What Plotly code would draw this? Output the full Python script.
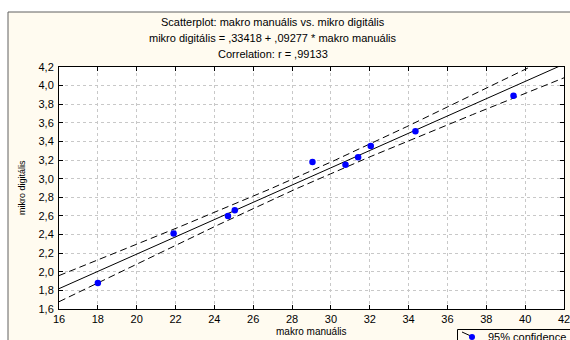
import numpy as np
import plotly.graph_objects as go

# ---- data ----
makro_manualis = [18.0, 21.9, 24.7, 25.05, 29.05, 30.75, 31.4, 32.05, 34.35, 39.4]
mikro_digitalis = [1.88, 2.41, 2.60, 2.66, 3.18, 3.15, 3.23, 3.35, 3.51, 3.89]
intercept = 0.33418
slope = 0.09277
x_ticks = list(range(16, 43, 2))
y_ticks = [1.6, 1.8, 2.0, 2.2, 2.4, 2.6, 2.8, 3.0, 3.2, 3.4, 3.6, 3.8, 4.0, 4.2]
title_lines = [
    "Scatterplot: makro manuális vs. mikro digitális",
    "mikro digitális = ,33418 + ,09277 * makro manuális",
    "Correlation: r = ,99133",
]
x_title = "makro manuális"
y_title = "mikro digitális"
legend_text = "95% confidence"

# ---- regression line and 95% confidence band (derived from the data) ----
xa = np.array(makro_manualis)
ya = np.array(mikro_digitalis)
n = len(xa)
resid = ya - (intercept + slope * xa)
s = np.sqrt(np.sum(resid ** 2) / (n - 2))
sxx = np.sum((xa - xa.mean()) ** 2)
t_crit = 2.306  # t(0.975, df=8)
xl = np.linspace(16, 42, 200)
yl = intercept + slope * xl
half = t_crit * s * np.sqrt(1.0 / n + (xl - xa.mean()) ** 2 / sxx)

W, H = 570, 340
L, R, T, B = 59, 6, 67, 31
pw, ph = W - L - R, H - T - B


def px(x):
    return (x - L) / pw


def py(y):
    return (H - B - y) / ph


FONT = "Liberation Sans, Arial, sans-serif"

fig = go.Figure()
fig.add_trace(go.Scatter(x=xl, y=yl + half, mode="lines",
                         line=dict(color="black", width=1, dash="7px,4px"), showlegend=False))
fig.add_trace(go.Scatter(x=xl, y=yl - half, mode="lines",
                         line=dict(color="black", width=1, dash="7px,4px"), showlegend=False))
fig.add_trace(go.Scatter(x=xl, y=yl, mode="lines",
                         line=dict(color="black", width=1), showlegend=False))
fig.add_trace(go.Scatter(x=makro_manualis, y=mikro_digitalis, mode="markers",
                         marker=dict(color="#0000FF", size=6.5), showlegend=False))

shapes = [
    # cream outer panel
    dict(type="rect", xref="paper", yref="paper", x0=px(8), x1=px(580), y0=py(350), y1=py(12),
         fillcolor="#FFFBF0", line=dict(color="#606060", width=1), layer="below"),
    # white plot area
    dict(type="rect", xref="paper", yref="paper", x0=0, x1=1, y0=0, y1=1,
         fillcolor="white", line=dict(width=0), layer="below"),
    # legend box
    dict(type="rect", xref="paper", yref="paper", x0=px(457.5), x1=px(600), y0=py(360), y1=py(329.5),
         fillcolor="#FFFBF0", line=dict(color="black", width=1)),
    dict(type="line", xref="paper", yref="paper", x0=px(462), x1=px(473), y0=py(332), y1=py(337),
         line=dict(color="black", width=1)),
    dict(type="circle", xref="paper", yref="paper", x0=px(469), x1=px(475), y0=py(340), y1=py(334),
         fillcolor="#0000FF", line=dict(color="#0000FF", width=0)),
]

annotations = []
for i, t in enumerate(title_lines):
    annotations.append(dict(text=t, xref="paper", yref="paper", x=px(273), y=py(22 + 16 * i),
                            xanchor="center", yanchor="middle", showarrow=False,
                            font=dict(family=FONT, size=11, color="black")))
annotations.append(dict(text=x_title, xref="paper", yref="paper", x=px(311), y=py(331),
                        xanchor="center", yanchor="middle", showarrow=False,
                        font=dict(family=FONT, size=10, color="black")))
annotations.append(dict(text=y_title, xref="paper", yref="paper", x=px(22), y=py(188),
                        xanchor="center", yanchor="middle", showarrow=False, textangle=-90,
                        font=dict(family=FONT, size=9, color="black")))
annotations.append(dict(text=legend_text, xref="paper", yref="paper", x=px(486), y=py(337),
                        xanchor="left", yanchor="middle", showarrow=False,
                        font=dict(family=FONT, size=11, color="black")))

axis_common = dict(showline=True, linecolor="black", linewidth=1, mirror="ticks",
                   ticks="inside", ticklen=4, tickcolor="black",
                   showgrid=True, gridcolor="#C8C8C8", griddash="dot", gridwidth=1,
                   zeroline=False, ticklabeloverflow="allow", automargin=False,
                   tickfont=dict(family=FONT, size=11, color="black"))

fig.update_layout(
    width=W, height=H,
    margin=dict(l=L, r=R, t=T, b=B, pad=0, autoexpand=False),
    paper_bgcolor="white", plot_bgcolor="rgba(0,0,0,0)",
    separators=", ",
    xaxis=dict(range=[16, 42], tickvals=x_ticks, ticktext=[str(v) for v in x_ticks], **axis_common),
    yaxis=dict(range=[1.6, 4.2], tickvals=y_ticks, ticktext=[f"{v:.1f}".replace(".", ",") for v in y_ticks],
               ticklabelstandoff=2, **axis_common),
    shapes=shapes, annotations=annotations, showlegend=False,
)

fig.write_html("out.html", config={"displayModeBar": False, "staticPlot": True},
               post_script="document.body.style.margin='0';document.body.style.overflow='hidden';")
